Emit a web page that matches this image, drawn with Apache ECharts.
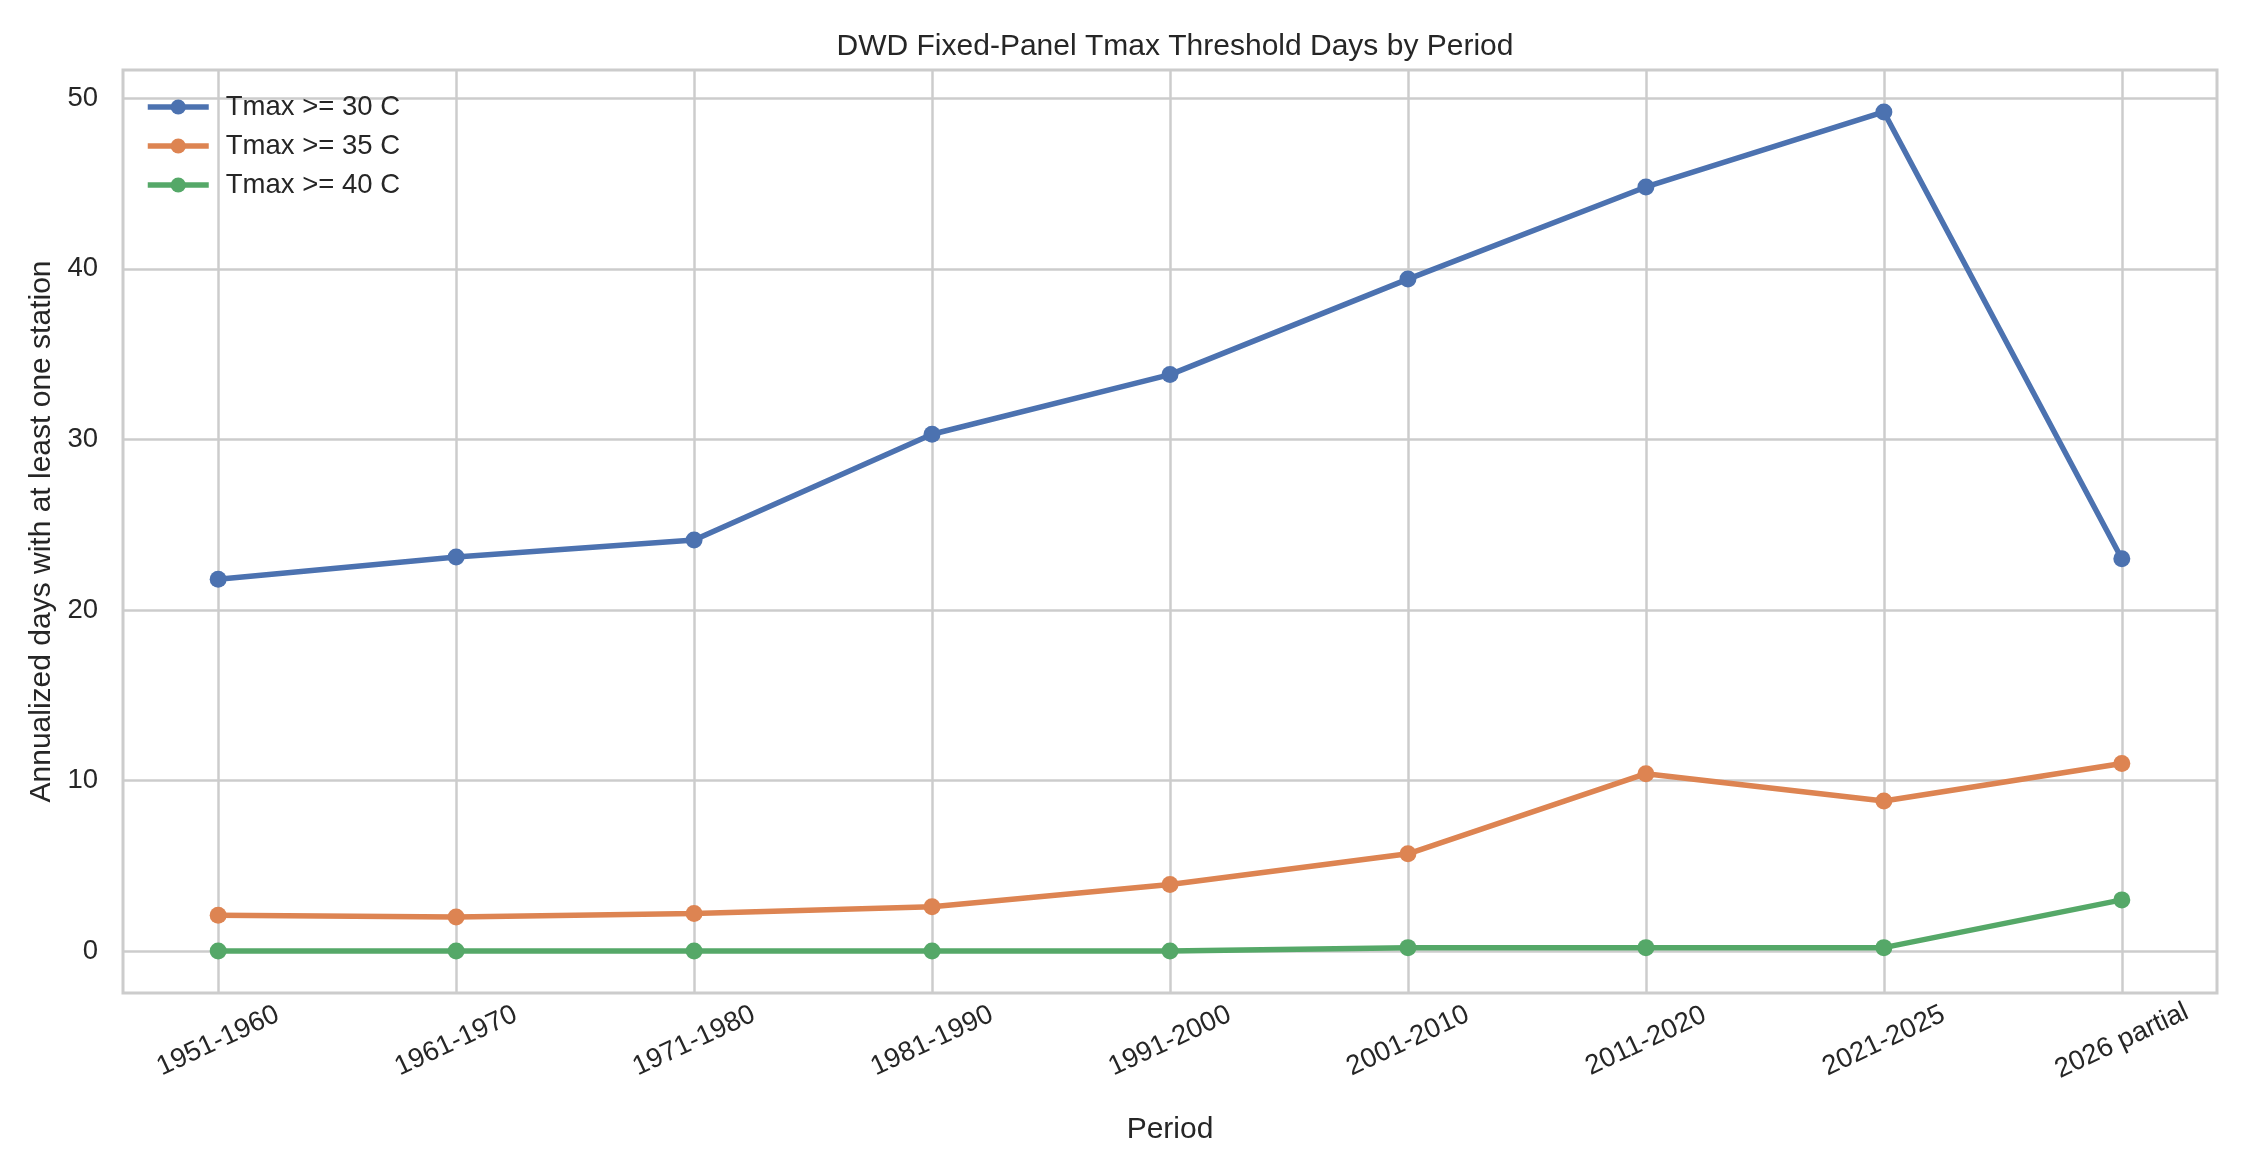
<!DOCTYPE html>
<html>
<head>
<meta charset="utf-8">
<title>DWD Fixed-Panel Tmax Threshold Days by Period</title>
<script src="https://cdn.jsdelivr.net/npm/echarts@6/dist/echarts.min.js"></script>
<style>
	html, body { margin: 0; padding: 0; background: #ffffff; }
	#chart { width: 2250px; height: 1170px; }
</style>
</head>
<body>
<div id="chart"></div>
<script type="text/javascript">
	// periods on the x axis
	var periods = ['1951-1960', '1961-1970', '1971-1980', '1981-1990', '1991-2000',
		'2001-2010', '2011-2020', '2021-2025', '2026 partial'];

	// annualized days with at least one station
	var tmax30 = [21.8, 23.1, 24.1, 30.3, 33.8, 39.4, 44.8, 49.2, 23.0];
	var tmax35 = [2.1, 2.0, 2.2, 2.6, 3.9, 5.7, 10.4, 8.8, 11.0];
	var tmax40 = [0, 0, 0, 0, 0, 0.2, 0.2, 0.2, 3.0];

	var yTicks = [0, 10, 20, 30, 40, 50];

	var fontFamily = '"Liberation Sans", Arial, sans-serif';
	var textColor = '#262626';
	var gridColor = '#cccccc';

	// matplotlib style 5% margins
	var allVals = tmax30.concat(tmax35, tmax40);
	var yLo = Math.min.apply(null, allVals);
	var yHi = Math.max.apply(null, allVals);
	var yPad = (yHi - yLo) * 0.05;
	var xPad = (periods.length - 1) * 0.05;
	var xTicks = periods.map(function (p, i) { return i; });

	function toPairs(arr) {
		return arr.map(function (v, i) { return [i, v]; });
	}

	function lineSeries(name, color, data) {
		return {
			name: name,
			type: 'line',
			data: toPairs(data),
			symbol: 'circle',
			symbolSize: 17,
			lineStyle: { color: color, width: 5.5 },
			itemStyle: { color: color, borderWidth: 0 },
			emphasis: { disabled: true },
			z: 3
		};
	}

	var chart = echarts.init(document.getElementById('chart'));
	chart.setOption({
		animation: false,
		backgroundColor: '#ffffff',
		textStyle: { fontFamily: fontFamily, color: textColor },
		title: {
			text: 'DWD Fixed-Panel Tmax Threshold Days by Period',
			left: 1170,
			top: 27,
			textAlign: 'center',
			textStyle: { fontFamily: fontFamily, fontSize: 30, fontWeight: 'normal', color: textColor }
		},
		legend: {
			orient: 'vertical',
			left: 145,
			top: 93,
			padding: 0,
			itemWidth: 61,
			itemHeight: 19,
			itemGap: 11,
			lineStyle: { width: 5.5 },
			textStyle: { fontFamily: fontFamily, fontSize: 27.5, color: textColor, padding: [0, 0, 0, 12] },
			data: ['Tmax >= 30 C', 'Tmax >= 35 C', 'Tmax >= 40 C']
		},
		grid: {
			left: 123,
			right: 33,
			top: 70,
			bottom: 177,
			show: true,
			borderColor: gridColor,
			borderWidth: 3,
			containLabel: false
		},
		xAxis: {
			type: 'value',
			min: -xPad,
			max: periods.length - 1 + xPad,
			name: 'Period',
			nameLocation: 'middle',
			nameGap: 122,
			nameTextStyle: { fontFamily: fontFamily, fontSize: 30, color: textColor },
			axisLine: { show: false },
			axisTick: { show: false, customValues: xTicks },
			axisLabel: {
				customValues: xTicks,
				rotate: 25,
				align: 'center',
				verticalAlign: 'middle',
				margin: 48,
				fontFamily: fontFamily,
				fontSize: 27.5,
				color: textColor,
				formatter: function (v) { return periods[Math.round(v)]; }
			},
			splitLine: { show: true, lineStyle: { color: gridColor, width: 2.5 } }
		},
		yAxis: {
			type: 'value',
			min: yLo - yPad,
			max: yHi + yPad,
			name: 'Annualized days with at least one station',
			nameLocation: 'middle',
			nameGap: 65,
			nameTextStyle: { fontFamily: fontFamily, fontSize: 30, color: textColor },
			axisLine: { show: false },
			axisTick: { show: false, customValues: yTicks },
			axisLabel: {
				customValues: yTicks,
				margin: 25,
				fontFamily: fontFamily,
				fontSize: 27.5,
				color: textColor
			},
			splitLine: { show: true, lineStyle: { color: gridColor, width: 2.5 } }
		},
		series: [
			lineSeries('Tmax >= 30 C', '#4c72b0', tmax30),
			lineSeries('Tmax >= 35 C', '#dd8452', tmax35),
			lineSeries('Tmax >= 40 C', '#55a868', tmax40)
		]
	});
</script>
</body>
</html>
